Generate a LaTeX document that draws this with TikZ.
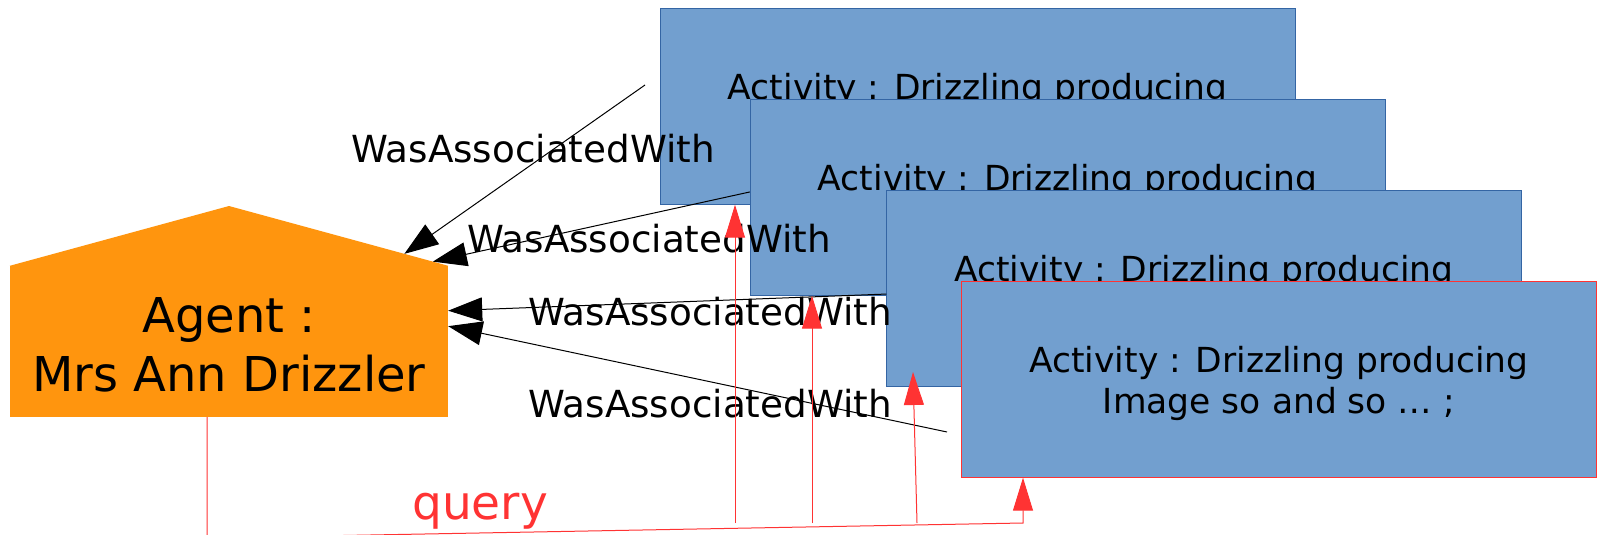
\documentclass[tikz,border=0pt]{standalone}
\usepackage{fontspec}
\setmainfont{DejaVu Sans}
\usetikzlibrary{arrows.meta,calc,positioning}
\definecolor{agentorange}{HTML}{FF950E}
\definecolor{actblue}{HTML}{729FCF}
\definecolor{actborder}{HTML}{3465A4}
\definecolor{queryred}{HTML}{FF3333}

\begin{document}
\begin{tikzpicture}[x=1pt, y=-1pt, >={Triangle[length=34pt,width=24pt]},
agent/.style = {rectangle, fill=agentorange, minimum width=438pt, minimum height=151pt, inner sep=0pt,
                align=center, font=\fontsize{48}{59}\selectfont, text height=99pt, text depth=0pt},
act/.style = {draw=actborder, rectangle, fill=actblue, minimum width=635pt, minimum height=196pt, inner sep=0pt,
              align=center, font=\fontsize{34.5}{41}\selectfont, text height=67pt, text depth=0pt},
rel/.style = {inner sep=0pt, font=\fontsize{37.3}{41}\selectfont},
qarrow/.style = {draw=queryred, line width=1pt, -{Triangle[length=33pt,width=20pt]}},
                    ]
    \path[fill=white,use as bounding box] (0,0) rectangle (1600,535);
    % agent with its roof
    \node [agent] at (229,341.5)      (agent){Agent :\\Mrs Ann Drizzler};
    \coordinate (roof) at (229,206);
    \fill[agentorange] (agent.north west) -- (roof) -- (agent.north east) -- cycle;
    % stack of activities
    \node [act] at (977.5,106.5)      (act1){Activity : Drizzling producing\\Image so and so … ;};
    \node [act] at (1067.5,197.5)     (act2){Activity : Drizzling producing\\Image so and so … ;};
    \node [act] at (1204,288.5)       (act3){Activity : Drizzling producing\\Image so and so … ;};
    \node [act, draw=queryred] at (1279,379.5) (act4){Activity : Drizzling producing\\Image so and so … ;};
    \node [rel] at (533,149)          (rel1){WasAssociatedWith};
    \node [rel] at (649,239)          (rel2){WasAssociatedWith};
    \node [rel] at (710,312)          (rel3){WasAssociatedWith};
    \node [rel] at (710,404)          (rel4){WasAssociatedWith};
    \coordinate (w1) at (645,85);
    \coordinate (w4) at (947,432);
    \draw[line width=1pt,->] (w1) -- ($(roof)!0.8!(agent.north east)$);
    \draw[line width=1pt,->] (act2.179) -- ($(roof)!0.93!(agent.north east)$);
    \draw[line width=1pt,->] (act3.181) -- (agent.8);
    \draw[line width=1pt,->] (w4) -- (agent.4);
    % query
    \coordinate (bend) at (207,538);
    \coordinate (hub) at (1023,523);
    \coordinate (q1) at (735,523);
    \coordinate (q2) at (812,523);
    \coordinate (q3) at (917,523);
    \coordinate (t3) at (913,372);
    \draw[qarrow] ([xshift=-22pt]agent.south) -- (bend) -- (hub) -- (hub |- act4.south);
    \draw[qarrow] (q1) -- (q1 |- act1.south);
    \draw[qarrow] (q2) -- (q2 |- act2.south);
    \draw[qarrow] (q3) -- (t3);
    \node [anchor=base, inner sep=0pt, text=queryred, font=\fontsize{47}{50}\selectfont] at (480,519) (query){query};
\end{tikzpicture}
\end{document}
